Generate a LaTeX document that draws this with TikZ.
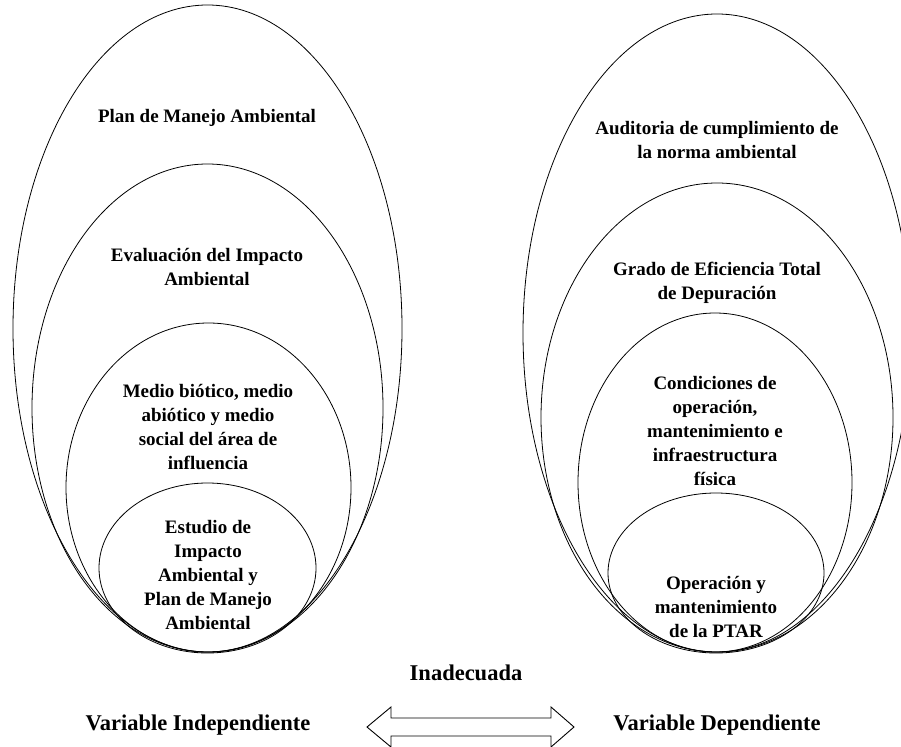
\documentclass[tikz,border=0pt]{standalone}
\usepackage{fontspec}
\setmainfont{Liberation Serif}
\begin{document}
\begin{tikzpicture}[x=1pt,y=-1pt,
  ring/.style={draw=black,line width=0.8pt},
  lbl/.style={font=\bfseries\fontsize{19}{24}\selectfont,align=center,inner sep=0pt},
  biglbl/.style={font=\bfseries\fontsize{22.5}{27}\selectfont,inner sep=0pt},
  arrowshape/.style={draw=black,line width=0.9pt,fill=white,line join=miter}]
\useasboundingbox (0,0) rectangle (901,746);
\clip (0,0) rectangle (901,746);
% left ellipses
\draw[ring] (207.5,328.5) ellipse [x radius=194.5pt, y radius=323.5pt];
\draw[ring] (207.5,408) ellipse [x radius=175.5pt, y radius=244pt];
\draw[ring] (208.5,487.5) ellipse [x radius=142.5pt, y radius=164.5pt];
\draw[ring] (207.5,568) ellipse [x radius=108.5pt, y radius=85pt];
% right ellipses
\draw[ring] (717,333) ellipse [x radius=194pt, y radius=319pt];
\draw[ring] (717,417.5) ellipse [x radius=176pt, y radius=234.5pt];
\draw[ring] (715,482.5) ellipse [x radius=137pt, y radius=169.5pt];
\draw[ring] (716,573) ellipse [x radius=108pt, y radius=80pt];
% left texts
\node[lbl] (l1) at (207,118) {Plan de Manejo Ambiental};
\node[lbl] (l2) at (207,267) {Evaluación del Impacto\\Ambiental};
\node[lbl] (l3) at (208,427) {Medio biótico, medio\\abiótico y medio\\social del área de\\influencia};
\node[lbl] (l4) at (208,575) {Estudio de\\Impacto\\Ambiental y\\Plan de Manejo\\Ambiental};
% right texts
\node[lbl] (r1) at (717,140) {Auditoria de cumplimiento de\\la norma ambiental};
\node[lbl] (r2) at (717,283) {Grado de Eficiencia Total\\de Depuración};
\node[lbl] (r3) at (715,431) {Condiciones de\\operación,\\mantenimiento e\\infraestructura\\física};
\node[lbl] (r4) at (716,607) {Operación y\\mantenimiento\\de la PTAR};
% bottom
\node[biglbl] (inad) at (466,673) {Inadecuada};
\node[biglbl] (vi) at (198,725) {Variable Independiente};
\node[biglbl] (vd) at (717,725) {Variable Dependiente};
\draw[arrowshape] (367,727) -- (391,707) -- (391,718) -- (551,718) -- (551,707)
  -- (574,727) -- (551,747) -- (551,736) -- (391,736) -- (391,747) -- cycle;
\end{tikzpicture}
\end{document}
